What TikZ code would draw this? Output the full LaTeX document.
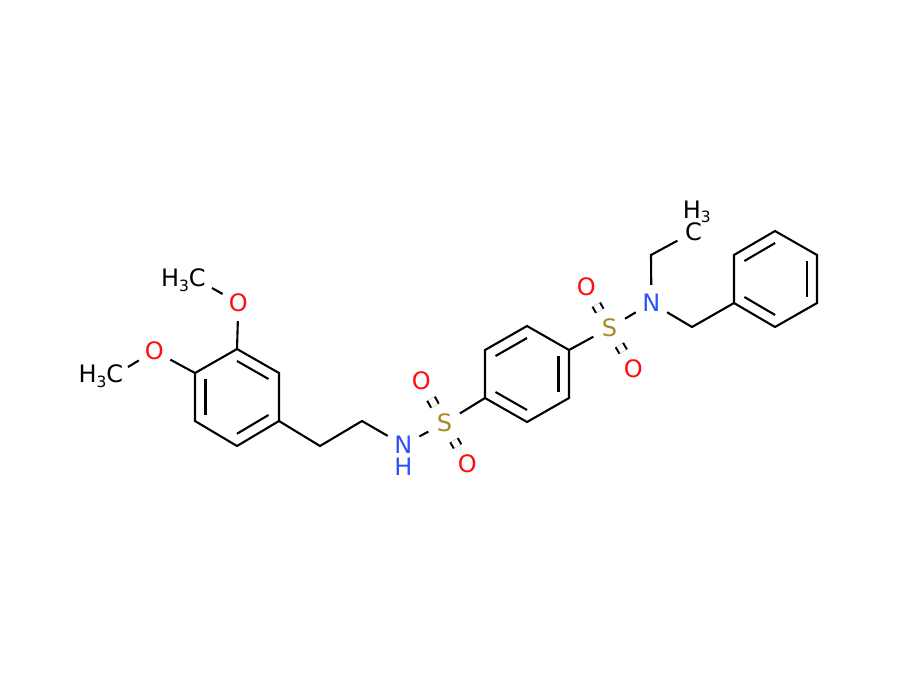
\documentclass[tikz,border=0pt]{standalone}
\usepackage{fontspec}
\setmainfont{DejaVu Sans}
\usetikzlibrary{calc}
\definecolor{oxy}{HTML}{FF0D0D}
\definecolor{nit}{HTML}{3050F8}
\definecolor{sul}{HTML}{A88A22}
\newcommand{\lowdigit}[1]{\raisebox{-4.5pt}{\fontsize{15.5}{15.5}\selectfont #1}}
\newcommand{\ringdbl}[3]{\draw[bond] ($(#1)!0.75!(#2)$) -- ($(#1)!0.75!(#3)$);}
\tikzset{
  bond/.style={line width=2.1pt,line cap=butt,line join=miter},
  sbond/.style={bond,double,double distance=6.4pt,shorten <=1.5pt,shorten >=2pt},
  atom/.style={circle,inner sep=0pt,minimum size=36pt,xshift=0.4pt,font=\fontsize{24}{24}\selectfont},
  plain/.style={inner sep=0pt,xshift=0.4pt,font=\fontsize{24}{24}\selectfont,text=black}
}
\begin{document}
\begin{tikzpicture}[x=1pt,y=-1pt]
\useasboundingbox (0,0) rectangle (900,680);
% ring A
\coordinate (a1) at (237,349);
\coordinate (a2) at (279,373);
\coordinate (a3) at (279,421);
\coordinate (a4) at (237,446);
\coordinate (a5) at (195,421);
\coordinate (a6) at (195,373);
\coordinate (ac) at (237,397);
% chain
\coordinate (c1) at (320,446);
\coordinate (c2) at (362,421);
% ring B
\coordinate (b1) at (485,398);
\coordinate (b2) at (485,350);
\coordinate (b3) at (527,326);
\coordinate (b4) at (569,350);
\coordinate (b5) at (569,398);
\coordinate (b6) at (527,422);
\coordinate (bc) at (527,374);
% ethyl, benzyl
\coordinate (e1) at (651,255);
\coordinate (d1) at (692,327);
% ring C
\coordinate (r1) at (734,303);
\coordinate (r2) at (734,255);
\coordinate (r3) at (775,231);
\coordinate (r4) at (817,255);
\coordinate (r5) at (817,303);
\coordinate (r6) at (775,327);
\coordinate (rc) at (775.5,279);
% methyl bond ends
\coordinate (m1) at (212,288);
\coordinate (m2) at (128,367);
% atoms
\node[atom,text=oxy] (o1) at (238,303) {O};
\node[atom,text=oxy] (o2) at (154,351) {O};
\node[plain] (h1) at (183,280) {H\lowdigit{3}C};
\node[plain] (h2) at (100.5,376) {H\lowdigit{3}C};
\node[atom,text=nit] (n1) at (403,445) {N};
\node[plain,text=nit] (n1h) at (403,467) {H};
\node[atom,text=sul] (s1) at (444,423) {S};
\node[atom,text=oxy] (o3) at (421,381) {O};
\node[atom,text=oxy] (o4) at (467,464) {O};
\node[atom,text=sul] (s2) at (609,328) {S};
\node[atom,text=oxy] (o5) at (586,287) {O};
\node[atom,text=oxy] (o6) at (633,369) {O};
\node[atom,text=nit] (n2) at (651,303) {N};
\node[atom,text=black] (cm) at (693,232) {C};
\node[plain] (cmh) at (696.5,212) {H\lowdigit{3}};
% rings
\draw[bond] (a1) -- (a2) -- (a3) -- (a4) -- (a5) -- (a6) -- cycle;
\ringdbl{ac}{a1}{a2}
\ringdbl{ac}{a3}{a4}
\ringdbl{ac}{a5}{a6}
\draw[bond] (b1) -- (b2) -- (b3) -- (b4) -- (b5) -- (b6) -- cycle;
\ringdbl{bc}{b2}{b3}
\ringdbl{bc}{b4}{b5}
\ringdbl{bc}{b6}{b1}
\draw[bond] (r1) -- (r2) -- (r3) -- (r4) -- (r5) -- (r6) -- cycle;
\ringdbl{rc}{r2}{r3}
\ringdbl{rc}{r4}{r5}
\ringdbl{rc}{r6}{r1}
% substituents
\draw[bond] (o1) -- (a1);
\draw[bond] (o2) -- (a6);
\draw[bond] (o1) -- (m1);
\draw[bond] (o2) -- (m2);
\draw[bond] (a3) -- (c1) -- (c2) -- (n1);
\draw[bond] (n1) -- (s1);
\draw[bond] (s1) -- (b1);
\draw[sbond] (s1) -- (o3);
\draw[sbond] (s1) -- (o4);
\draw[bond] (b4) -- (s2);
\draw[sbond] (s2) -- (o5);
\draw[sbond] (s2) -- (o6);
\draw[bond] (s2) -- (n2);
\draw[bond] (n2) -- (e1) -- (cm);
\draw[bond] (n2) -- (d1) -- (r1);
\end{tikzpicture}
\end{document}
